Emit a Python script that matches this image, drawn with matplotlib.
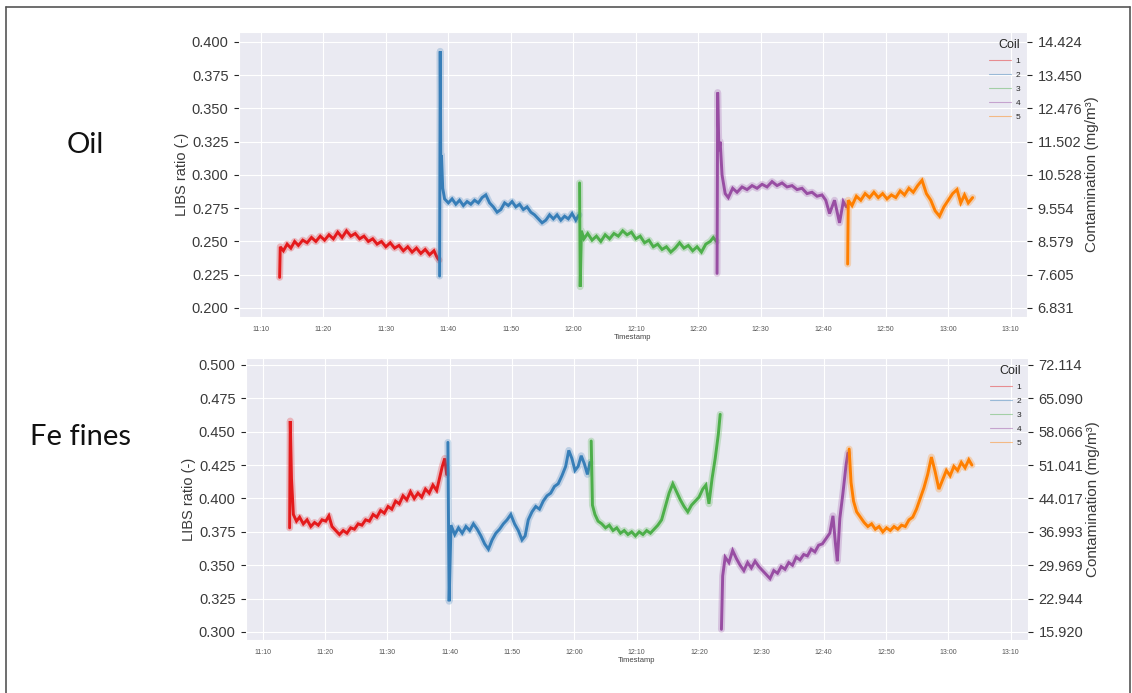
import matplotlib
matplotlib.use("Agg")
import matplotlib.pyplot as plt
from matplotlib.lines import Line2D
import seaborn as sns

# time axis: minutes after 11:00
tick_minutes = [10, 20, 30, 40, 50, 60, 70, 80, 90, 100, 110, 120, 130]
tick_labels = ["11:10", "11:20", "11:30", "11:40", "11:50", "12:00", "12:10",
               "12:20", "12:30", "12:40", "12:50", "13:00", "13:10"]

coil_names = ["1", "2", "3", "4", "5"]
coil_colors = ["#e41a1c", "#377eb8", "#4daf4a", "#984ea3", "#ff7f00"]

# ---- Oil ----
oil_ticks = [0.200, 0.225, 0.250, 0.275, 0.300, 0.325, 0.350, 0.375, 0.400]
oil_conc_labels = ["6.831", "7.605", "8.579", "9.554", "10.528", "11.502",
                   "12.476", "13.450", "14.424"]

oil_t1 = [13.0, 13.1, 13.6, 14.2, 14.8, 15.4, 16.0, 16.7, 17.4, 18.1, 18.8, 19.5,
          20.2, 20.9, 21.6, 22.3, 23.0, 23.7, 24.4, 25.1, 25.8, 26.5, 27.2, 27.9,
          28.6, 29.3, 30.0, 30.7, 31.4, 32.1, 32.8, 33.5, 34.2, 34.9, 35.6, 36.3,
          37.0, 37.7, 38.2, 38.5]
oil_v1 = [0.223, 0.246, 0.243, 0.248, 0.245, 0.250, 0.247, 0.251, 0.249, 0.253,
          0.250, 0.254, 0.251, 0.255, 0.252, 0.257, 0.253, 0.258, 0.254, 0.256,
          0.252, 0.254, 0.250, 0.252, 0.248, 0.250, 0.246, 0.249, 0.245, 0.247,
          0.243, 0.246, 0.242, 0.245, 0.241, 0.244, 0.240, 0.243, 0.238, 0.236]

oil_t2 = [38.6, 38.7, 38.8, 38.9, 39.1, 39.4, 40.0, 40.6, 41.2, 41.8, 42.4, 43.0,
          43.6, 44.2, 44.8, 45.4, 46.0, 46.6, 47.2, 47.8, 48.4, 49.0, 49.6, 50.2,
          50.8, 51.4, 52.0, 52.6, 53.2, 53.8, 54.4, 55.0, 55.6, 56.2, 56.8, 57.4,
          58.0, 58.6, 59.2, 59.8, 60.4, 60.9]
oil_v2 = [0.224, 0.393, 0.300, 0.315, 0.290, 0.282, 0.279, 0.282, 0.278, 0.281,
          0.277, 0.280, 0.278, 0.281, 0.279, 0.283, 0.285, 0.279, 0.276, 0.272,
          0.274, 0.279, 0.277, 0.280, 0.276, 0.278, 0.274, 0.276, 0.272, 0.270,
          0.267, 0.264, 0.266, 0.270, 0.267, 0.270, 0.266, 0.269, 0.267, 0.271,
          0.266, 0.270]

oil_t3 = [61.0, 61.1, 61.3, 61.7, 62.3, 63.0, 63.7, 64.4, 65.1, 65.8, 66.5, 67.2,
          67.9, 68.6, 69.3, 70.0, 70.7, 71.4, 72.1, 72.8, 73.5, 74.2, 74.9, 75.6,
          76.3, 77.0, 77.7, 78.4, 79.1, 79.8, 80.5, 81.2, 81.9, 82.4, 82.9]
oil_v3 = [0.294, 0.216, 0.258, 0.252, 0.256, 0.251, 0.254, 0.250, 0.255, 0.252,
          0.256, 0.254, 0.258, 0.255, 0.257, 0.252, 0.254, 0.249, 0.251, 0.246,
          0.248, 0.244, 0.246, 0.242, 0.245, 0.249, 0.245, 0.247, 0.243, 0.246,
          0.242, 0.248, 0.250, 0.253, 0.250]

oil_t4 = [83.0, 83.1, 83.3, 83.5, 83.8, 84.3, 84.8, 85.5, 86.2, 87.0, 87.8, 88.6,
          89.4, 90.2, 91.0, 91.8, 92.6, 93.4, 94.2, 95.0, 95.8, 96.6, 97.4, 98.2,
          99.0, 99.8, 100.4, 101.0, 101.8, 102.6, 103.2, 103.7]
oil_v4 = [0.226, 0.362, 0.318, 0.325, 0.300, 0.286, 0.283, 0.290, 0.287, 0.291,
          0.289, 0.292, 0.290, 0.293, 0.291, 0.295, 0.292, 0.294, 0.291, 0.292,
          0.289, 0.290, 0.286, 0.287, 0.284, 0.285, 0.281, 0.271, 0.281, 0.264,
          0.280, 0.276]

oil_t5 = [103.9, 104.0, 104.6, 105.3, 106.0, 106.7, 107.4, 108.1, 108.8, 109.5,
          110.2, 110.9, 111.6, 112.3, 113.0, 113.7, 114.4, 115.1, 115.8, 116.5,
          117.2, 117.9, 118.6, 119.3, 120.0, 120.7, 121.4, 122.0, 122.6, 123.2,
          123.9]
oil_v5 = [0.233, 0.281, 0.277, 0.284, 0.281, 0.286, 0.283, 0.287, 0.283, 0.286,
          0.282, 0.285, 0.283, 0.288, 0.285, 0.290, 0.287, 0.292, 0.296, 0.286,
          0.281, 0.273, 0.269, 0.276, 0.281, 0.286, 0.289, 0.279, 0.285, 0.279,
          0.283]

# ---- Fe fines ----
fe_ticks = [0.300, 0.325, 0.350, 0.375, 0.400, 0.425, 0.450, 0.475, 0.500]
fe_conc_labels = ["15.920", "22.944", "29.969", "36.993", "44.017", "51.041",
                  "58.066", "65.090", "72.114"]

fe_t1 = [14.3, 14.4, 14.6, 14.9, 15.4, 15.9, 16.5, 17.1, 17.7, 18.3, 18.9, 19.5,
         20.1, 20.6, 21.1, 21.7, 22.3, 22.9, 23.5, 24.1, 24.7, 25.3, 25.9, 26.5,
         27.1, 27.7, 28.3, 28.9, 29.5, 30.1, 30.7, 31.3, 31.9, 32.5, 33.1, 33.7,
         34.3, 34.9, 35.5, 36.1, 36.7, 37.3, 37.9, 38.4, 38.8, 39.2, 39.5]
fe_v1 = [0.378, 0.458, 0.415, 0.388, 0.383, 0.386, 0.381, 0.384, 0.379, 0.382,
         0.380, 0.384, 0.383, 0.387, 0.379, 0.376, 0.373, 0.376, 0.374, 0.378,
         0.377, 0.381, 0.380, 0.384, 0.383, 0.388, 0.386, 0.391, 0.389, 0.394,
         0.392, 0.398, 0.396, 0.402, 0.399, 0.405, 0.400, 0.404, 0.401, 0.407,
         0.404, 0.410, 0.406, 0.416, 0.424, 0.430, 0.418]

fe_t2 = [39.7, 39.9, 40.2, 40.8, 41.4, 42.0, 42.6, 43.2, 43.8, 44.4, 45.0, 45.6,
         46.2, 46.8, 47.4, 48.0, 48.6, 49.2, 49.8, 50.4, 51.0, 51.6, 52.1, 52.6,
         53.2, 53.8, 54.4, 55.0, 55.6, 56.2, 56.8, 57.4, 58.0, 58.6, 59.1, 59.6,
         60.1, 60.6, 61.1, 61.6, 62.1, 62.5]
fe_v2 = [0.442, 0.323, 0.380, 0.373, 0.378, 0.374, 0.379, 0.376, 0.381, 0.377,
         0.372, 0.366, 0.362, 0.369, 0.374, 0.377, 0.381, 0.384, 0.388, 0.381,
         0.376, 0.369, 0.372, 0.384, 0.390, 0.394, 0.392, 0.398, 0.402, 0.404,
         0.409, 0.411, 0.417, 0.424, 0.436, 0.430, 0.421, 0.424, 0.432, 0.426,
         0.418, 0.427]

fe_t3 = [62.7, 62.9, 63.3, 63.8, 64.4, 65.0, 65.6, 66.2, 66.8, 67.4, 68.0, 68.6,
         69.2, 69.8, 70.4, 71.0, 71.6, 72.2, 72.8, 73.4, 74.0, 74.6, 75.2, 75.8,
         76.4, 77.0, 77.6, 78.2, 78.8, 79.4, 80.0, 80.6, 81.1, 81.6, 82.1, 82.6,
         83.1, 83.4]
fe_v3 = [0.443, 0.395, 0.388, 0.383, 0.381, 0.378, 0.380, 0.376, 0.378, 0.374,
         0.376, 0.373, 0.375, 0.372, 0.375, 0.373, 0.376, 0.374, 0.377, 0.380,
         0.384, 0.394, 0.404, 0.411, 0.405, 0.399, 0.394, 0.390, 0.395, 0.398,
         0.401, 0.407, 0.410, 0.396, 0.415, 0.430, 0.448, 0.463]

fe_t4 = [83.6, 83.8, 84.2, 84.8, 85.4, 86.0, 86.6, 87.2, 87.8, 88.4, 89.0, 89.6,
         90.2, 90.8, 91.4, 92.0, 92.6, 93.2, 93.8, 94.4, 95.0, 95.6, 96.2, 96.8,
         97.4, 98.0, 98.6, 99.2, 99.8, 100.4, 101.0, 101.5, 101.9, 102.2, 102.6,
         103.1, 103.6, 103.9]
fe_v4 = [0.302, 0.342, 0.356, 0.352, 0.361, 0.355, 0.350, 0.346, 0.352, 0.348,
         0.353, 0.349, 0.346, 0.343, 0.340, 0.346, 0.344, 0.349, 0.347, 0.352,
         0.350, 0.356, 0.354, 0.358, 0.357, 0.362, 0.360, 0.365, 0.366, 0.370,
         0.374, 0.387, 0.366, 0.353, 0.385, 0.404, 0.425, 0.434]

fe_t5 = [104.1, 104.4, 104.8, 105.3, 105.9, 106.5, 107.1, 107.7, 108.3, 108.9,
         109.5, 110.1, 110.7, 111.3, 111.9, 112.5, 113.1, 113.7, 114.3, 114.9,
         115.5, 116.1, 116.7, 117.3, 117.9, 118.5, 119.1, 119.7, 120.3, 120.9,
         121.5, 122.1, 122.7, 123.3, 123.8]
fe_v5 = [0.437, 0.412, 0.398, 0.390, 0.386, 0.382, 0.379, 0.381, 0.377, 0.379,
         0.375, 0.378, 0.376, 0.379, 0.377, 0.380, 0.379, 0.384, 0.386, 0.392,
         0.400, 0.408, 0.418, 0.431, 0.420, 0.407, 0.414, 0.421, 0.417, 0.424,
         0.421, 0.427, 0.423, 0.429, 0.425]

oil_series = [(oil_t1, oil_v1), (oil_t2, oil_v2), (oil_t3, oil_v3),
              (oil_t4, oil_v4), (oil_t5, oil_v5)]
fe_series = [(fe_t1, fe_v1), (fe_t2, fe_v2), (fe_t3, fe_v3),
             (fe_t4, fe_v4), (fe_t5, fe_v5)]

sns.set_style("darkgrid")
plt.rcParams['font.family'] = ['Liberation Sans', 'DejaVu Sans']

W, H = 1132, 693
fig = plt.figure(figsize=(W / 100, H / 100), dpi=100)


def box(left, top, right, bottom):
    return [left / W, 1 - bottom / H, (right - left) / W, (bottom - top) / H]


def panel(rect, series, ticks, conc_labels, ylim, xlim):
    ax = fig.add_axes(rect)
    for (t, v), c in zip(series, coil_colors):
        # soft halo to get the noisy band look of the raw signal
        ax.plot(t, v, color=c, lw=5, alpha=0.25, solid_joinstyle="round")
        ax.plot(t, v, color=c, lw=2.1, solid_joinstyle="miter")
    ax.set_xlim(*xlim)
    ax.set_ylim(*ylim)
    ax.set_yticks(ticks)
    ax.set_yticklabels([f"{x:.3f}" for x in ticks], fontsize=10.5, color="#3a3a3a")
    ax.set_xticks(tick_minutes)
    ax.set_xticklabels(tick_labels, fontsize=5, color="#555555")
    ax.tick_params(axis="x", pad=3)
    ax.tick_params(axis="y", pad=4)
    ax.set_xlabel("Timestamp", fontsize=5.5, color="#444444", labelpad=1)
    ax.set_ylabel("LIBS ratio (-)", fontsize=10.5, color="#3a3a3a", labelpad=2)

    handles = [Line2D([], [], color=c, lw=0.8, alpha=0.45) for c in coil_colors]
    leg = ax.legend(handles, coil_names, title="Coil", loc="upper right",
                    fontsize=6, title_fontsize=9, frameon=False,
                    handlelength=2.6, handletextpad=0.6, labelspacing=0.75,
                    borderaxespad=0.4)
    leg._legend_box.align = "right"

    ax2 = ax.twinx()
    ax2.set_ylim(*ylim)
    ax2.set_yticks(ticks)
    ax2.set_yticklabels(conc_labels, fontsize=10.5, color="#3a3a3a")
    ax2.grid(False)
    ax2.tick_params(axis="y", pad=4)
    ax2.set_ylabel("Contamination (mg/m³)", fontsize=11, color="#3a3a3a", labelpad=2)
    for s in ax2.spines.values():
        s.set_visible(False)
    return ax


panel(box(239, 32, 1027, 317), oil_series, oil_ticks, oil_conc_labels,
      (0.1932, 0.4075), (6.5, 132.6))
panel(box(246, 358, 1028, 640), fe_series, fe_ticks, fe_conc_labels,
      (0.2940, 0.5052), (7.3, 132.8))

fig.text(85 / W, 1 - 145 / H, "Oil", fontsize=21, family="Lato",
         ha="center", va="center", color="#111111")
fig.text(80 / W, 1 - 437 / H, "Fe fines", fontsize=21, family="Lato",
         ha="center", va="center", color="#111111")

# outer frame
frame_kw = dict(color="#555555", lw=1.2, transform=fig.transFigure)
fig.add_artist(Line2D([6 / W, 1130 / W], [1 - 7 / H, 1 - 7 / H], **frame_kw))
fig.add_artist(Line2D([6 / W, 6 / W], [1 - 7 / H, 0], **frame_kw))
fig.add_artist(Line2D([1130 / W, 1130 / W], [1 - 7 / H, 0], **frame_kw))

fig.savefig("out.png", dpi=100, facecolor="white")
